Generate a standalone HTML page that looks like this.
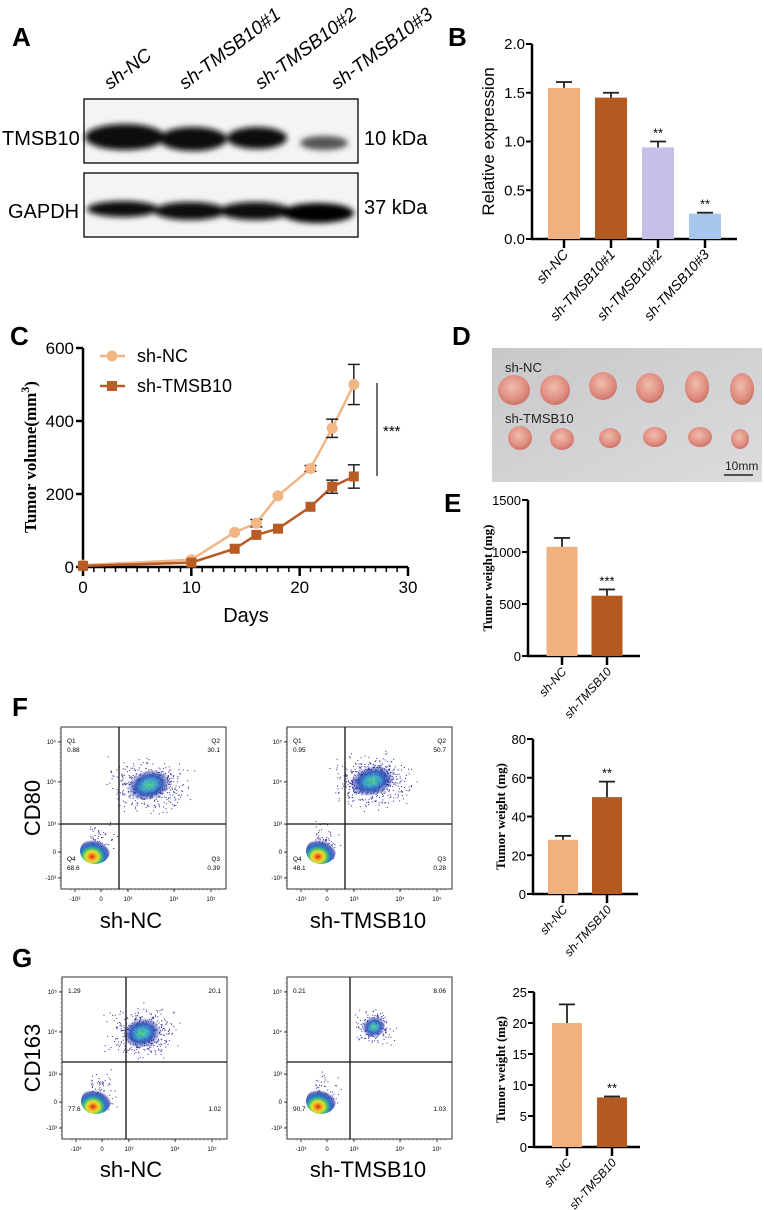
<!DOCTYPE html>
<html><head><meta charset="utf-8"><style>
html,body{margin:0;padding:0;background:#fff;}
svg{display:block;font-family:"Liberation Sans",sans-serif;}
.lbl{font-weight:bold;font-size:26px;}
.serif{font-family:"Liberation Serif",serif;font-weight:bold;}
</style></head><body>
<svg id="fig" width="764" height="1210" viewBox="0 0 764 1210">
<defs>
<filter id="blur3" x="-50%" y="-100%" width="200%" height="300%"><feGaussianBlur stdDeviation="3"/></filter>
<linearGradient id="photoBg" x1="0" y1="0" x2="1" y2="1"><stop offset="0" stop-color="#c8c8cb"/><stop offset="1" stop-color="#dcdcde"/></linearGradient>
<radialGradient id="tumor" cx="0.45" cy="0.4" r="0.6"><stop offset="0" stop-color="#f0bcae"/><stop offset="0.7" stop-color="#e08e80"/><stop offset="1" stop-color="#cc7468"/></radialGradient>
<radialGradient id="blueCloud"><stop offset="0" stop-color="#50d070"/><stop offset="0.3" stop-color="#30a8c8"/><stop offset="0.6" stop-color="#2a50b8"/><stop offset="1" stop-color="#22228a" stop-opacity="0"/></radialGradient>
<radialGradient id="hotCloud" cx="0.4" cy="0.72" r="0.65"><stop offset="0" stop-color="#d8201a"/><stop offset="0.18" stop-color="#f4a020"/><stop offset="0.32" stop-color="#e8e030"/><stop offset="0.48" stop-color="#40c070"/><stop offset="0.65" stop-color="#2a70d0"/><stop offset="0.85" stop-color="#2432a0" stop-opacity="0.7"/><stop offset="1" stop-color="#2432a0" stop-opacity="0"/></radialGradient>
</defs>

<text class="lbl" x="12" y="46">A</text>
<g font-style="italic" font-size="19">
<text transform="translate(110,90) rotate(-37)">sh-NC</text>
<text transform="translate(185,90) rotate(-37)">sh-TMSB10#1</text>
<text transform="translate(261,90) rotate(-37)">sh-TMSB10#2</text>
<text transform="translate(337,90) rotate(-37)">sh-TMSB10#3</text>
</g>
<g>
<rect x="84" y="99" width="274" height="64" fill="#f4f4f4" stroke="#000" stroke-width="1.3"/>
<g filter="url(#blur3)">
<ellipse cx="125" cy="137" rx="40" ry="13" fill="#080808"/>
<ellipse cx="193" cy="139" rx="34" ry="12" fill="#0c0c0c"/>
<ellipse cx="257" cy="138" rx="30" ry="11" fill="#101010"/>
<ellipse cx="324" cy="143" rx="24" ry="7" fill="#555"/>
</g></g>
<g>
<rect x="84" y="173" width="274" height="64" fill="#f4f4f4" stroke="#000" stroke-width="1.3"/>
<g filter="url(#blur3)">
<ellipse cx="123" cy="209" rx="36" ry="8" fill="#0a0a0a"/>
<ellipse cx="190" cy="211" rx="36" ry="9" fill="#0a0a0a"/>
<ellipse cx="255" cy="211" rx="36" ry="9" fill="#0a0a0a"/>
<ellipse cx="318" cy="213" rx="36" ry="10" fill="#050505"/>
</g></g>
<text x="2" y="145" font-size="20">TMSB10</text>
<text x="8" y="218" font-size="20">GAPDH</text>
<text x="364" y="145" font-size="20">10 kDa</text>
<text x="364" y="214" font-size="20">37 kDa</text>

<text class="lbl" x="448" y="46">B</text>
<g id="chartB"></g>

<text class="lbl" x="10" y="345">C</text>
<g id="chartC"></g>

<text class="lbl" x="452" y="345">D</text>
<g id="photo">
<rect x="492" y="348" width="270" height="134" fill="url(#photoBg)"/>
<text x="505" y="372" font-size="13" fill="#222">sh-NC</text>
<text x="505" y="423" font-size="13" fill="#222">sh-TMSB10</text>
<text x="725" y="470" font-size="12" fill="#222">10mm</text>
<line x1="724" y1="475" x2="753" y2="475" stroke="#222" stroke-width="1.5"/>
</g>

<text class="lbl" x="444" y="512">E</text>
<g id="chartE"></g>

<text class="lbl" x="12" y="716">F</text>
<text class="lbl" x="12" y="967">G</text>
<g id="flow"></g>
<g id="chartF"></g>
<g id="chartG"></g>
</svg>

<script>
const bCategories = ["sh-NC","sh-TMSB10#1","sh-TMSB10#2","sh-TMSB10#3"];
const bValues = [1.55,1.45,0.94,0.26];
const bErrors = [0.06,0.05,0.06,0.01];
const bStars = ["","","**","**"];
const bTicks = [0,0.5,1.0,1.5,2.0];
const bTickLabels = ["0.0","0.5","1.0","1.5","2.0"];

const cDays = [0,10,14,16,18,21,23,25];
const cNC = [5,20,95,120,195,270,380,500];
const cNCErr = [0,0,0,10,0,8,25,55];
const cSh = [3,12,50,88,105,165,220,248];
const cShErr = [0,0,0,0,0,0,18,32];
const cYTicks = [0,200,400,600];
const cXTicks = [0,10,20,30];

const tumorCategories = ["sh-NC","sh-TMSB10"];
const eValues = [1050,580];
const eErrors = [85,60];
const eStars = ["","***"];
const eTicks = [0,500,1000,1500];

const fValues = [28,50];
const fErrors = [2,8];
const fStars = ["","**"];
const fTicks = [0,20,40,60,80];

const gValues = [20,8];
const gErrors = [3,0.15];
const gStars = ["","**"];
const gTicks = [0,5,10,15,20,25];

const flowF_NC = ["0.88","30.1","0.39","68.6"];
const flowF_Sh = ["0.95","50.7","0.28","48.1"];
const flowG_NC = ["1.29","20.1","1.02","77.6"];
const flowG_Sh = ["0.21","8.06","1.03","90.7"];

const photoRow1 = [[514,390,16,15],[555,390,15,15],[603,386,14,14],[650,388,14,15],[697,387,12,16],[742,389,12,16]];
const photoRow2 = [[520,438,12,12],[562,439,12,11],[610,438,11,10],[655,437,12,10],[700,437,12,10],[740,439,9,10]];

const NS="http://www.w3.org/2000/svg";
function mk(tag, attrs, parent, txt){
  const e=document.createElementNS(NS,tag);
  for(const k in attrs) e.setAttribute(k,attrs[k]);
  if(txt!==undefined) e.textContent=txt;
  parent.appendChild(e); return e;
}

function barChart(g, o){
  const sy = v => o.y0 - (v/o.max)*(o.y0-o.yTop);
  mk('line',{x1:o.ax,y1:o.yTop,x2:o.ax,y2:o.y0+1,stroke:'#000','stroke-width':2.5},g);
  const xa=mk('line',{x1:o.ax-1,y1:o.y0,x2:o.xEnd,y2:o.y0,stroke:'#000','stroke-width':2.5},g);
  
  o.ticks.forEach((t,i)=>{
    const y=sy(t);
    mk('line',{x1:o.ax-6,y1:y,x2:o.ax,y2:y,stroke:'#000','stroke-width':2},g);
    const tl=mk('text',{x:o.ax-7,y:y+5,'text-anchor':'end','font-size':o.tickFont},g,o.tickLabels?o.tickLabels[i]:String(t));
    
    
  });
  o.values.forEach((v,i)=>{
    const cx=o.ax+o.first+i*o.step;
    const r=mk('rect',{x:cx-o.w/2,y:sy(v),width:o.w,height:o.y0-sy(v),fill:o.colors[i]},g);
    
    
    const ye=sy(v+o.errors[i]);
    mk('line',{x1:cx,y1:sy(v),x2:cx,y2:ye,stroke:'#222','stroke-width':1.8},g);
    const eb=mk('line',{x1:cx-8,y1:ye,x2:cx+8,y2:ye,stroke:'#222','stroke-width':1.8},g);
    
    
    if(o.stars[i]){
      const st=mk('text',{x:cx,y:ye-4,'text-anchor':'middle','font-size':13},g,o.stars[i]);
      
      
    }
    mk('line',{x1:cx,y1:o.y0,x2:cx,y2:o.y0+9,stroke:'#000','stroke-width':2.5},g);
    const xl=mk('text',{transform:`translate(${cx+5},${o.y0+16}) rotate(-48)`,'text-anchor':'end','font-size':o.xFont,'font-style':'italic'},g,o.cats[i]);
    
    
  });
  const yt=mk('text',{transform:`translate(${o.titleX},${(o.y0+o.yTop)/2}) rotate(-90)`,'text-anchor':'middle','font-size':o.titleFont,class:o.titleClass||''},g,o.title);
  
  
}
const C1='#f0b17f', C2='#b35a22';
barChart(document.getElementById('chartB'),{ax:532,y0:239,yTop:44,max:2,xEnd:737,first:32,step:47,w:32,
  ticks:bTicks,tickLabels:bTickLabels,values:bValues,errors:bErrors,stars:bStars,cats:bCategories,
  colors:[C1,C2,'#c5c0ea','#a7c7ec'],tickFont:15,xFont:14,title:'Relative expression',titleX:494,titleFont:17});
barChart(document.getElementById('chartE'),{ax:528,y0:656,yTop:500,max:1500,xEnd:640,first:34,step:45,w:31,
  ticks:eTicks,values:eValues,errors:eErrors,stars:eStars,cats:tumorCategories,colors:[C1,C2],
  tickFont:13,xFont:12,title:'Tumor weight (mg)',titleX:492,titleFont:13,titleClass:'serif'});
barChart(document.getElementById('chartF'),{ax:533,y0:894,yTop:739,max:80,xEnd:638,first:30,step:44,w:30,
  ticks:fTicks,values:fValues,errors:fErrors,stars:fStars,cats:tumorCategories,colors:[C1,C2],
  tickFont:13,xFont:12,title:'Tumor weight (mg)',titleX:505,titleFont:13,titleClass:'serif'});
barChart(document.getElementById('chartG'),{ax:534,y0:1147,yTop:992,max:25,xEnd:640,first:33,step:45,w:30,
  ticks:gTicks,values:gValues,errors:gErrors,stars:gStars,cats:tumorCategories,colors:[C1,C2],
  tickFont:13,xFont:12,title:'Tumor weight (mg)',titleX:505,titleFont:13,titleClass:'serif'});

(function(){
  const g=document.getElementById('chartC');
  const x0=83,x1=408,y0=567,yT=348;
  const sx=d=>x0+d/30*(x1-x0), sy=v=>y0-v/600*(y0-yT);
  mk('line',{x1:x0,y1:yT,x2:x0,y2:y0+1,stroke:'#000','stroke-width':2.5},g);
  mk('line',{x1:x0-1,y1:y0,x2:x1,y2:y0,stroke:'#000','stroke-width':2.5},g);
  for(let d=1;d<30;d++){ mk('line',{x1:sx(d),y1:y0,x2:sx(d),y2:y0+5,stroke:'#000','stroke-width':1.5},g); }
  cXTicks.forEach(t=>{
    mk('line',{x1:sx(t),y1:y0,x2:sx(t),y2:y0+9,stroke:'#000','stroke-width':2.5},g);
    const l=mk('text',{x:sx(t),y:y0+26,'text-anchor':'middle','font-size':17},g,String(t));
    
    
  });
  cYTicks.forEach(t=>{
    mk('line',{x1:x0-7,y1:sy(t),x2:x0,y2:sy(t),stroke:'#000','stroke-width':2.5},g);
    const l=mk('text',{x:x0-9,y:sy(t)+6,'text-anchor':'end','font-size':17},g,String(t));
    
    
  });
  const xt=mk('text',{x:246,y:622,'text-anchor':'middle','font-size':20},g,'Days');
  
  
  const yt=mk('text',{transform:'translate(36,457) rotate(-90)','text-anchor':'middle','font-size':17,class:'serif'},g);
  
  
  yt.appendChild(document.createTextNode('Tumor volume(mm'));
  mk('tspan',{dy:-7,'font-size':12},yt,'3');
  mk('tspan',{dy:7},yt,')');
  function series(vals,errs,col,sq,name){
    const s=mk('g',{},g);
    
    
    mk('polyline',{points:cDays.map((d,i)=>sx(d)+','+sy(vals[i])).join(' '),fill:'none',stroke:col,'stroke-width':2.5},s);
    cDays.forEach((d,i)=>{
      const cx=sx(d),cy=sy(vals[i]);
      if(errs[i]>0){
        const a=sy(vals[i]+errs[i]),b=sy(vals[i]-errs[i]);
        mk('line',{x1:cx,y1:a,x2:cx,y2:b,stroke:'#222','stroke-width':1.5},s);
        mk('line',{x1:cx-6,y1:a,x2:cx+6,y2:a,stroke:'#222','stroke-width':1.5},s);
        mk('line',{x1:cx-6,y1:b,x2:cx+6,y2:b,stroke:'#222','stroke-width':1.5},s);
      }
      let p;
      if(sq) p=mk('rect',{x:cx-5,y:cy-5,width:10,height:10,fill:col},s);
      else p=mk('circle',{cx:cx,cy:cy,r:5.5,fill:col},s);
      
      
    });
  }
  series(cNC,cNCErr,'#f2b584',false,'sh-nc');
  series(cSh,cShErr,'#b85b25',true,'sh-tmsb10');
  const lg=mk('g',{},g);
  
  
  mk('line',{x1:100,y1:356,x2:125,y2:356,stroke:'#f2b584','stroke-width':2.5},lg);
  mk('circle',{cx:112,cy:356,r:5.5,fill:'#f2b584'},lg);
  mk('text',{x:137,y:362,'font-size':18},lg,'sh-NC');
  mk('line',{x1:100,y1:386,x2:125,y2:386,stroke:'#b85b25','stroke-width':2.5},lg);
  mk('rect',{x:107,y:381,width:10,height:10,fill:'#b85b25'},lg);
  mk('text',{x:137,y:392,'font-size':18},lg,'sh-TMSB10');
  mk('line',{x1:377,y1:383,x2:377,y2:476,stroke:'#222','stroke-width':1.3},g);
  const st=mk('text',{x:383,y:436,'font-size':15},g,'***');
  
  
})();

(function(){
  const g=document.getElementById('photo');
  photoRow1.concat(photoRow2).forEach((t,i)=>{
    const e=mk('ellipse',{cx:t[0],cy:t[1],rx:t[2],ry:t[3],fill:'url(#tumor)'},g);
    
    
  });
})();

(function(){
  const g=document.getElementById('flow');
  let seed=7; const rnd=()=>{seed=(seed*16807)%2147483647;return seed/2147483647;};
  const gauss=()=>{let s=0;for(let k=0;k<3;k++)s+=rnd();return (s-1.5)/0.5;};
  function plot(x,y,vx,hy,q,showQ,upper){
    const w=165,h=162;
    const p=mk('g',{},g);
    
    
    mk('rect',{x:x,y:y,width:w,height:h,fill:'#fff',stroke:'#333','stroke-width':1},p);
    const ux=x+upper[0],uy=y+upper[1];
    for(let k=0;k<upper[4];k++){mk('rect',{x:ux+gauss()*upper[2]*0.55,y:uy+gauss()*upper[3]*0.55,width:1,height:1,fill:'#2a2a9a'},p);}
    mk('ellipse',{cx:ux,cy:uy,rx:upper[2]*0.75,ry:upper[3]*0.75,fill:'url(#blueCloud)',opacity:0.9,transform:`rotate(-15 ${ux} ${uy})`},p);
    const lx=x+34,ly=y+124;
    for(let k=0;k<90;k++){
      const px=lx+Math.abs(gauss())*12-6, py=ly+gauss()*10-6;
      if(px<vx-1 && py<y+132) mk('rect',{x:px,y:py,width:1,height:1,fill:'#2a2a9a'},p);
    }
    mk('ellipse',{cx:lx,cy:ly,rx:15,ry:13,fill:'url(#hotCloud)'},p);
    mk('line',{x1:vx,y1:y,x2:vx,y2:y+h,stroke:'#111','stroke-width':1.3},p);
    mk('line',{x1:x,y1:hy,x2:x+w,y2:hy,stroke:'#111','stroke-width':1.3},p);
    const fs=6.5;
    if(showQ){
      mk('text',{x:x+6,y:y+16,'font-size':fs},p,'Q1');
      mk('text',{x:x+w-6,y:y+16,'font-size':fs,'text-anchor':'end'},p,'Q2');
      mk('text',{x:x+6,y:y+h-28,'font-size':fs},p,'Q4');
      mk('text',{x:x+w-6,y:y+h-28,'font-size':fs,'text-anchor':'end'},p,'Q3');
    }
    const oy=showQ?9:0;
    mk('text',{x:x+6,y:y+16+oy,'font-size':fs},p,q[0]);
    mk('text',{x:x+w-6,y:y+16+oy,'font-size':fs,'text-anchor':'end'},p,q[1]);
    mk('text',{x:x+w-6,y:y+h-28+oy,'font-size':fs,'text-anchor':'end'},p,q[2]);
    mk('text',{x:x+6,y:y+h-28+oy,'font-size':fs},p,q[3]);
    const yl=[[15,'10⁵'],[55,'10⁴'],[97,'10³'],[125,'0'],[151,'-10³']];
    yl.forEach(t=>{mk('line',{x1:x-3,y1:y+t[0],x2:x,y2:y+t[0],stroke:'#333'},p);mk('text',{x:x-5,y:y+t[0]+2,'font-size':6,'text-anchor':'end'},p,t[1]);});
    for(let k=2;k<h-2;k+=4){mk('line',{x1:x-1.5,y1:y+k,x2:x,y2:y+k,stroke:'#555','stroke-width':0.6},p);}
    const xl=[[14,'-10³'],[40,'0'],[67,'10³'],[113,'10⁴'],[150,'10⁵']];
    xl.forEach(t=>{mk('line',{x1:x+t[0],y1:y+h,x2:x+t[0],y2:y+h+3,stroke:'#333'},p);mk('text',{x:x+t[0],y:y+h+12,'font-size':6,'text-anchor':'middle'},p,t[1]);});
    for(let k=10;k<w-5;k+=4){mk('line',{x1:x+k,y1:y+h,x2:x+k,y2:y+h+1.5,stroke:'#555','stroke-width':0.6},p);}
  }
  plot(61,727,119,824,flowF_NC,true,[88,58,30,20,500]);
  plot(287,727,345,824,flowF_Sh,true,[85,54,30,20,650]);
  plot(62,977,126,1062,flowG_NC,false,[80,56,26,20,450]);
  plot(287,977,350,1062,flowG_Sh,false,[87,50,16,14,180]);
  const labs=[[131,928,'sh-NC'],[368,928,'sh-TMSB10'],[131,1177,'sh-NC'],[368,1177,'sh-TMSB10']];
  labs.forEach(l=>{
    const t=mk('text',{x:l[0],y:l[1],'text-anchor':'middle','font-size':22},g,l[2]);
    
    
  });
  const a=mk('text',{transform:'translate(40,808) rotate(-90)','text-anchor':'middle','font-size':22},g,'CD80');
  
  
  const b=mk('text',{transform:'translate(40,1058) rotate(-90)','text-anchor':'middle','font-size':22},g,'CD163');
  
  
})();
</script>
</body></html>
